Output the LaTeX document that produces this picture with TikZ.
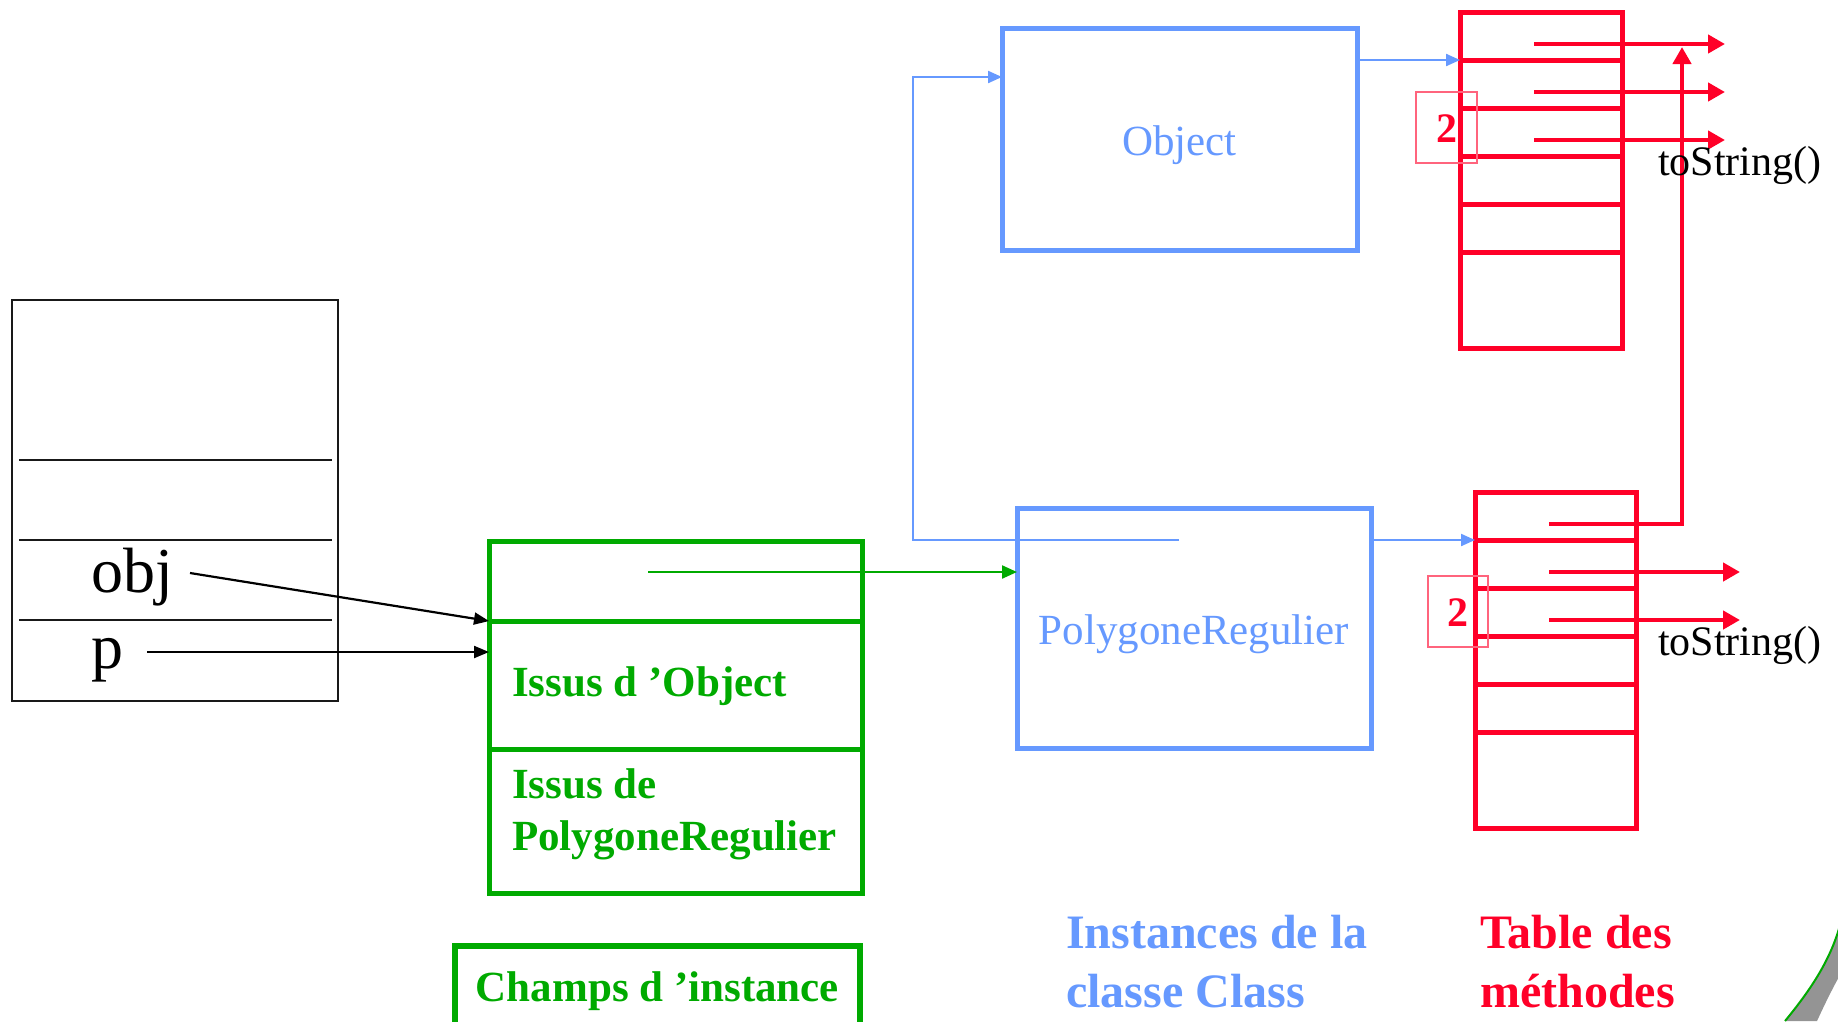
\documentclass[tikz,border=0pt]{standalone}
\usepackage{fontspec}
\setmainfont{Liberation Serif}
\usetikzlibrary{arrows.meta,calc}
\definecolor{clsblue}{RGB}{102,153,255}
\definecolor{tabred}{RGB}{255,0,40}
\definecolor{fldgreen}{RGB}{0,170,0}
\definecolor{numframe}{RGB}{255,100,125}
\definecolor{curlgray}{RGB}{148,148,148}

\begin{document}
\begin{tikzpicture}[x=1pt,y=-1pt,
  cellbox/.style={draw, inner sep=0pt, outer sep=0pt, anchor=north west},
  stackbox/.style={cellbox, draw=black!90, line width=2.4pt},
  fieldbox/.style={cellbox, draw=fldgreen, line width=5pt},
  legendbox/.style={cellbox, draw=fldgreen, line width=5.5pt, text=fldgreen,
    font=\bfseries\fontsize{43}{50}\selectfont, text height=15pt, text depth=15pt},
  classbox/.style={cellbox, draw=clsblue, line width=5pt, text=clsblue,
    font=\fontsize{43}{50}\selectfont, text height=36pt, text depth=4pt},
  tablebox/.style={cellbox, draw=tabred, line width=5pt, minimum height=336pt},
  numberbox/.style={cellbox, draw=numframe, line width=1.2pt, text=tabred,
    font=\bfseries\fontsize{42}{48}\selectfont, minimum width=61pt,
    minimum height=71pt, text height=29pt, text depth=0pt},
  txt/.style={inner sep=0pt, anchor=base west},
  vartext/.style={txt, font=\fontsize{64}{70}\selectfont},
  fieldtext/.style={txt, text=fldgreen, font=\bfseries\fontsize{43}{50}\selectfont},
  legendtext/.style={txt, font=\bfseries\fontsize{48}{56}\selectfont},
  methodtext/.style={txt, font=\fontsize{42}{48}\selectfont},
  refarrow/.style={-{Triangle[length=15pt,width=12pt]}, line width=2.2pt, black},
  classarrow/.style={-{Triangle[length=15pt,width=13pt]}, line width=2.2pt, fldgreen},
  metaarrow/.style={-{Triangle[length=14pt,width=12pt]}, line width=2.2pt, clsblue},
  methodarrow/.style={-{Triangle[length=17pt,width=18pt]}, line width=4.5pt, tabred},
]
\useasboundingbox (0,0) rectangle (1838,1021);
\clip (0,0) rectangle (1838,1021);

% ---- stack frame with the two references ----
\node[stackbox, minimum width=326pt, minimum height=401pt] (stack) at (12,300) {};
\foreach \dy in {160,240,320}
  \draw[line width=2.4pt, black!90] ($(stack.north west)+(7,\dy)$) -- ($(stack.north east)+(-6,\dy)$);
\node[vartext] (obj) at (91,592) {obj};
\node[vartext] (p) at (91,668) {p};
\coordinate (objptr) at (190,573);
\coordinate (pptr) at (147,652);

% ---- object in the heap ----
\node[fieldbox, minimum width=373pt, minimum height=352pt] (inst) at (489,541) {};
\foreach \dy in {80,208}
  \draw[fldgreen, line width=5pt] ($(inst.north west)+(0,\dy)$) -- ($(inst.north east)+(0,\dy)$);
\node[fieldtext] (fromobj) at (512,696) {Issus d ’Object};
\node[fieldtext] (frompr1) at (512,798) {Issus de};
\node[fieldtext] (frompr2) at (512,850) {PolygoneRegulier};
\coordinate (classptr) at ($(inst.north west)+(159,31)$);

\draw[refarrow] (objptr) -- ($(inst.north west)+(0,80)$);
\draw[refarrow] (pptr) -- (pptr -| inst.west);

% ---- Class instances ----
\node[classbox, minimum width=355pt, minimum height=222pt, anchor=north] (objcls) at (1179.5,28) {Object};
\node[classbox, minimum width=354pt, minimum height=240pt, anchor=north] (prcls) at (1194,508) {PolygoneRegulier};

\draw[classarrow] (classptr) -- (classptr -| prcls.west);
\coordinate (superptr) at ($(prcls.north west)+(162,32)$);
\draw[metaarrow] (superptr) -- ++(-266,0) |- ($(objcls.north west)+(0,49)$);

% ---- method tables ----
\node[tablebox, minimum width=162pt] (tab1) at (1460,12) {};
\node[tablebox, minimum width=161pt] (tab2) at (1475,492) {};
\foreach \t in {tab1,tab2}
  \foreach \k in {1,...,5}
    \draw[tabred, line width=5pt] ($(\t.north west)+(0,48*\k)$) -- ($(\t.north east)+(0,48*\k)$);

\draw[metaarrow] ($(objcls.north east)+(0,32)$) -- ++(103,0);
\draw[metaarrow] ($(prcls.north east)+(0,32)$) -- ++(104,0);

\node[numberbox] (n1) at (1416,92) {2};
\node[numberbox, minimum width=60pt] (n2) at (1428,576) {2};

\foreach \k in {0,1,2}
  \draw[methodarrow] ($(tab1.north west)+(74,32+48*\k)$) -- ++(191,0);
\foreach \k in {1,2}
  \draw[methodarrow] ($(tab2.north west)+(74,32+48*\k)$) -- ++(191,0);
\coordinate (t1first) at ($(tab1.north west)+(74,32)$);
\coordinate (t2first) at ($(tab2.north west)+(74,32)$);
\draw[methodarrow] (t2first) -| ($(t1first)+(148,3)$);

\node[methodtext] (ts1) at (1658,175) {toString()};
\node[methodtext] (ts2) at (1658,655) {toString()};

% ---- legends ----
\node[legendbox, minimum width=405pt, minimum height=110pt] (champs) at (455,946) {Champs d ’instance};
\node[legendtext, text=clsblue] (lgc1) at (1066,948) {Instances de la};
\node[legendtext, text=clsblue] (lgc2) at (1066,1007) {classe Class};
\node[legendtext, text=tabred] (lgt1) at (1480,948) {Table des};
\node[legendtext, text=tabred] (lgt2) at (1480,1007) {méthodes};

% ---- page curl in the corner ----
\fill[curlgray] (1785,1021) .. controls (1808,993) and (1830,962) .. (1840,925)
  -- (1840,975) .. controls (1830,993) and (1823,1008) .. (1817,1021) -- cycle;
\draw[fldgreen, line width=2pt] (1785,1021) .. controls (1808,993) and (1830,962) .. (1840,925);
\end{tikzpicture}
\end{document}
